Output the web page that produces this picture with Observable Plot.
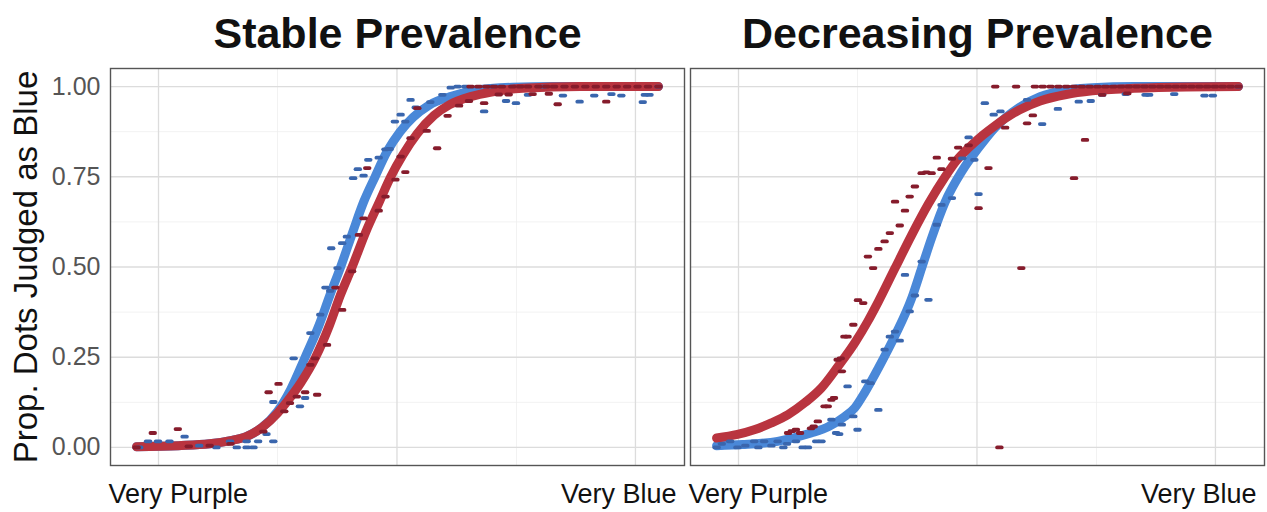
<!DOCTYPE html>
<html><head><meta charset="utf-8">
<script src="https://cdn.jsdelivr.net/npm/d3@7"></script>
<script src="https://cdn.jsdelivr.net/npm/@observablehq/plot@0.6"></script>
<style>body{margin:0;background:#fff;} #chart svg{display:block;}</style>
</head><body><div id="chart"></div>
<script>
const panels = ["Stable Prevalence", "Decreasing Prevalence"];
const yTitle = "Prop. Dots Judged as Blue";
const xTickValues = [8, 92.4];
const xTickLabels = ["Very Purple", "Very Blue"];
const yMajor = [0, 0.25, 0.5, 0.75, 1];
const yMinor = [0.125, 0.375, 0.625, 0.875];
const xMajor = [4.2, 49.9, 95.6];
const xMinor = [27, 72.8];

// Stable prevalence: observed points [stimulus step, proportion]
const stableBluePts = [[0.5,0],[2.2,0.017],[4.1,0.017],[6.3,0.017],[9.2,0.03],[12,0.005],[15.3,0],[17.9,0.017],[19.2,0],[21.1,0],[21.1,0.017],[22.4,0],[23.3,0.017],[24.9,0.037],[26.2,0.017],[26.2,0.126],[30.1,0.247],[31.3,0.114],[32.3,0.137],[33.3,0.317],[35.2,0.368],[36.2,0.443],[37.1,0.434],[38.5,0.497],[37.3,0.552],[39.4,0.566],[40.3,0.584],[41.5,0.746],[42.4,0.771],[43.5,0.753],[44.4,0.797],[46.4,0.803],[47.7,0.826],[48.5,0.827],[49.5,0.903],[50.6,0.922],[51.5,0.903],[52.5,0.963],[53.5,0.942],[56.3,0.957],[58.6,0.977],[60.2,0.997],[61.5,1],[63,1],[66.6,0.931],[68,1],[70.8,0.96],[72.7,0.954],[75,0.977],[78,1],[81.7,0.975],[84.9,0.958],[87.7,0.975],[91,0.979],[92.9,0.975],[97,0.957],[97.4,0.977],[98.3,0.977],[100,1]];
const stableRedPts = [[0,0],[3.1,0.04],[7.9,0.051],[10,0.003],[14,0.005],[18,0.01],[24.3,0.044],[25.3,0.153],[27.2,0.176],[28.3,0.1],[29.4,0.123],[30.7,0.141],[32.3,0.153],[34.6,0.146],[33.3,0.229],[34.2,0.247],[36.5,0.284],[38.1,0.443],[39.4,0.381],[41.3,0.488],[42.6,0.589],[43.5,0.635],[44.2,0.774],[46.4,0.656],[47.7,0.695],[49.6,0.742],[50.6,0.806],[51.5,0.763],[52.5,0.857],[53.8,0.94],[55.6,0.877],[57.6,0.829],[59.6,0.919],[61.8,0.947],[63.7,0.96],[64,1],[65.5,1],[66.6,0.954],[67,1],[68.5,1],[69.4,0.978],[70,1],[71.3,0.978],[72,1],[73.5,1],[75.9,0.979],[75,1],[77,1],[79,0.98],[78.5,1],[80.7,0.951],[80,1],[82,1],[84,1],[86,1],[88,1],[90,0.958],[90,1],[92,1],[94,1],[96,1],[98,1],[100,1]];
// Stable prevalence: fitted curves
const stableBlueCurve = [[0,0.002],[8,0.005],[14,0.01],[18,0.019],[21,0.03],[24,0.055],[27,0.1],[29.5,0.16],[32.3,0.25],[35,0.34],[37,0.42],[39.1,0.5],[41.5,0.6],[43.5,0.68],[45.7,0.75],[48,0.82],[50.5,0.875],[53,0.915],[56,0.948],[60,0.972],[65,0.99],[72,0.998],[80,1],[100,1]];
const stableRedCurve = [[0,0.002],[8,0.005],[14,0.01],[18,0.019],[21,0.03],[24,0.055],[27,0.095],[29,0.13],[31.5,0.18],[34.3,0.25],[37,0.34],[39,0.42],[41.3,0.5],[44,0.6],[46.5,0.68],[48.7,0.75],[51,0.81],[53.8,0.87],[57,0.92],[60,0.95],[64,0.972],[68,0.985],[74,0.995],[85,1],[100,1]];

// Decreasing prevalence: observed points
const decrBluePts = [[0,0],[1,0.01],[2.6,0.017],[4,0],[5.5,0.005],[7.2,0.017],[8,0],[9.1,0.017],[10.5,0.005],[11.7,0.017],[12.8,0],[13.5,0.01],[15.2,0.017],[16.5,0],[17.5,0],[19.1,0.017],[20.1,0.017],[22,0.077],[22.9,0.04],[23.5,0.037],[24,0.063],[25.1,0.169],[26.2,0.086],[27,0.049],[28.5,0.183],[29.5,0.178],[31,0.104],[32.2,0.271],[33.2,0.307],[34.2,0.321],[35.1,0.296],[36.1,0.478],[37,0.377],[38,0.421],[39.3,0.515],[40.6,0.409],[42.2,0.617],[43.1,0.672],[45.1,0.691],[47.1,0.801],[48.3,0.859],[49.4,0.797],[50.2,0.702],[51.4,0.954],[53.1,0.922],[54.4,0.931],[59.5,0.963],[62.4,0.896],[65.4,0.938],[69.4,0.958],[71.7,0.96],[73.9,0.977],[78.4,0.979],[82.2,0.977],[82.9,0.977],[87.7,0.979],[93.5,0.975],[95.1,0.975],[100,1]];
const decrRedPts = [[13.7,0.04],[14.4,0.045],[15.2,0.049],[16,0.04],[18.1,0.053],[18.6,0.058],[19.4,0.072],[20.7,0.114],[21.3,0.114],[22,0.132],[22.5,0.137],[23.2,0.243],[23.8,0.247],[24,0.211],[24.5,0.307],[25.1,0.307],[26.2,0.34],[27.1,0.408],[28.1,0.4],[29,0.529],[30,0.497],[31,0.55],[32.2,0.571],[33.2,0.594],[34.2,0.681],[35.1,0.615],[36.1,0.656],[37,0.695],[38,0.723],[39.3,0.76],[40.2,0.762],[41.2,0.76],[42.2,0.803],[43.1,0.771],[45.1,0.8],[46.3,0.831],[48.3,0.837],[50.2,0.663],[52.1,0.774],[53.4,1],[54.2,0],[55.3,0.886],[57.4,1],[58.4,0.497],[59.5,0.898],[60.6,0.92],[61,1],[62.5,1],[64,1],[65.5,1],[67,1],[68.5,0.746],[68.5,1],[70,1],[70.6,0.852],[71.5,1],[73,1],[73.9,0.977],[74.5,1],[76,1],[77.5,1],[78.7,0.981],[79,1],[80.5,1],[82,1],[83.5,1],[85,1],[86.5,1],[88,1],[89.5,1],[91,1],[92.5,1],[94,1],[95.5,1],[97,1],[98.5,1],[100,1]];
// Decreasing prevalence: fitted curves
const decrBlueCurve = [[0,0.005],[5,0.008],[11.7,0.017],[18.1,0.04],[21.5,0.058],[24.5,0.085],[26.5,0.11],[28.3,0.15],[31,0.22],[34.2,0.31],[37.4,0.414],[39.3,0.497],[41.2,0.58],[43.8,0.68],[47,0.765],[50.2,0.83],[53.4,0.887],[58,0.942],[62,0.972],[67,0.99],[72,0.997],[80,1],[100,1]];
const decrRedCurve = [[0,0.026],[4,0.036],[7.2,0.049],[10.5,0.068],[13.7,0.091],[17,0.125],[20.1,0.165],[23.3,0.225],[26.5,0.29],[29,0.35],[31,0.404],[34.2,0.497],[37.4,0.589],[40.6,0.675],[43.8,0.75],[46,0.795],[48.3,0.83],[51,0.865],[53.4,0.892],[58,0.935],[62,0.96],[67,0.978],[72,0.988],[80,0.995],[90,0.999],[100,1]];

const toRows = (panel, arr) => arr.map(([u, y]) => ({panel, u, y}));
const bluePts = [...toRows(panels[0], stableBluePts), ...toRows(panels[1], decrBluePts)];
const redPts = [...toRows(panels[0], stableRedPts), ...toRows(panels[1], decrRedPts)];
const blueCurve = [...toRows(panels[0], stableBlueCurve), ...toRows(panels[1], decrBlueCurve)];
const redCurve = [...toRows(panels[0], stableRedCurve), ...toRows(panels[1], decrRedCurve)];

const dash = {
  draw(ctx) {
    const w = 4.2, h = 1.9;
    ctx.moveTo(-w + h, -h);
    ctx.lineTo(w - h, -h);
    ctx.arc(w - h, 0, h, -Math.PI / 2, Math.PI / 2);
    ctx.lineTo(-w + h, h);
    ctx.arc(-w + h, 0, h, Math.PI / 2, 3 * Math.PI / 2);
    ctx.closePath();
  }
};
const labelFor = new Map(xTickValues.map((v, i) => [v, xTickLabels[i]]));

const chart = Plot.plot({
  width: 1267,
  height: 512,
  marginLeft: 110,
  marginRight: 3,
  marginTop: 68,
  marginBottom: 47,
  style: {fontFamily: "'Liberation Sans', Arial, sans-serif", background: "#fff"},
  fx: {domain: panels, paddingInner: 0.0105, paddingOuter: 0, label: null},
  x: {domain: [-5, 105], label: null},
  y: {domain: [-0.05, 1.05], label: null},
  marks: [
    Plot.gridY(yMinor, {stroke: "#ececec", strokeWidth: 0.7, strokeOpacity: 1}),
    Plot.gridX(xMinor, {stroke: "#ececec", strokeWidth: 0.7, strokeOpacity: 1}),
    Plot.gridY(yMajor, {stroke: "#dcdcdc", strokeWidth: 1.3, strokeOpacity: 1}),
    Plot.gridX(xMajor, {stroke: "#dcdcdc", strokeWidth: 1.3, strokeOpacity: 1}),
    Plot.line(blueCurve, {fx: "panel", x: "u", y: "y", stroke: "#4a88d8", strokeWidth: 9, curve: "monotone-x"}),
    Plot.line(redCurve, {fx: "panel", x: "u", y: "y", stroke: "#b9343f", strokeWidth: 9, curve: "monotone-x"}),
    Plot.dot(bluePts, {fx: "panel", x: "u", y: "y", symbol: dash, fill: "#3a66ad", stroke: "none"}),
    Plot.dot(redPts, {fx: "panel", x: "u", y: "y", symbol: dash, fill: "#861c2c", stroke: "none"}),
    Plot.frame({stroke: "#555", strokeWidth: 1.4}),
    Plot.axisFx({anchor: "top", label: null, tickSize: 0, tickPadding: 21, fontSize: 43, fontWeight: "bold", fill: "#111"}),
    Plot.axisY(yMajor, {tickFormat: d3.format(".2f"), tickSize: 0, tickPadding: 10, fontSize: 25, fill: "#555", label: null}),
    Plot.axisX(xTickValues, {tickFormat: d => labelFor.get(d), tickSize: 0, tickPadding: 18, fontSize: 27, fill: "#111", label: null}),
    Plot.text([yTitle], {fx: [panels[0]], text: d => d, frameAnchor: "left", textAnchor: "middle", rotate: -90, dx: -84, fontSize: 33, fill: "#111"})
  ]
});
document.getElementById("chart").appendChild(chart);
</script></body></html>
